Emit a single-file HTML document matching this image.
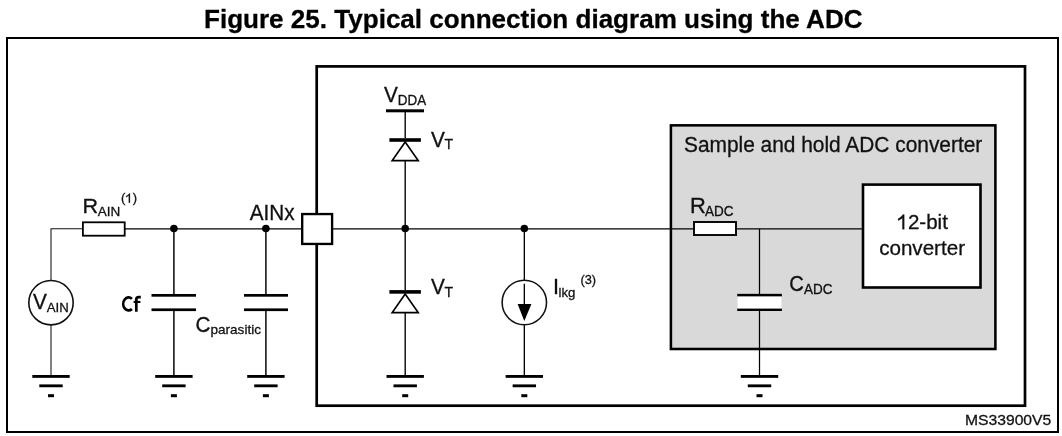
<!DOCTYPE html>
<html><head><meta charset="utf-8">
<style>
html,body{margin:0;padding:0;background:#fff;width:1062px;height:436px;overflow:hidden}
svg{display:block;will-change:transform}
text{font-family:"Liberation Sans",sans-serif;fill:#111;stroke:#111;stroke-width:0.3px}
.t{fill:#000;stroke:#000}
</style></head><body>
<svg width="1062" height="436" viewBox="0 0 1062 436">
<defs>
<g id="gnd">
<rect x="-18.7" y="375" width="37.4" height="2.85" fill="#000"/>
<rect x="-11.7" y="384.4" width="23.4" height="2.85" fill="#000"/>
<rect x="-3" y="394.2" width="6" height="3" fill="#000"/>
</g>
</defs>
<text class="t" x="204" y="27.7" style="font-weight:bold;font-size:26.05px">Figure 25. Typical connection diagram using the ADC</text>
<rect x="7" y="38" width="1051" height="394" fill="none" stroke="#000" stroke-width="2"/>
<rect x="316.7" y="66.4" width="708.3" height="339.3" fill="none" stroke="#000" stroke-width="2.7"/>
<rect x="670.9" y="125.35" width="324.5" height="223.65" fill="#d9d9d9" stroke="#000" stroke-width="2.55"/>
<rect x="863" y="184.6" width="117.5" height="102.9" fill="#fff" stroke="#000" stroke-width="2.6"/>
<g fill="none">
<path d="M51 376V325M51 280V228.8H83" stroke="#111" stroke-width="1.05"/>
<path d="M124 228.8H862" stroke="#000" stroke-width="1.2"/>
<path d="M173.9 228.8V294M173.9 311V376" stroke="#000" stroke-width="1.45"/>
<path d="M265.9 228.8V294M265.9 311V376" stroke="#000" stroke-width="1.45"/>
<path d="M405.2 112V138M405.2 161V290M405.2 313V376" stroke="#000" stroke-width="1.37"/>
<path d="M524.33 228.8V280M524.33 325V376M524.33 283.7V305" stroke="#000" stroke-width="1.33"/>
<path d="M759.5 228.8V294M759.5 311V376" stroke="#000" stroke-width="1.25"/>
</g>
<rect x="82.9" y="222.3" width="41.8" height="13.4" fill="#fff" stroke="#000" stroke-width="1.8"/>
<circle cx="51" cy="302.65" r="22.2" fill="#fff" stroke="#111" stroke-width="1.6"/>
<rect x="151.5" y="294" width="44.5" height="2.7" fill="#000"/>
<rect x="151.5" y="308.4" width="44.5" height="2.7" fill="#000"/>
<rect x="244" y="294" width="44" height="2.7" fill="#000"/>
<rect x="244" y="308.4" width="44" height="2.7" fill="#000"/>
<circle cx="173.9" cy="228.55" r="3.8" fill="#000"/>
<circle cx="265.9" cy="228.55" r="3.8" fill="#000"/>
<circle cx="405.2" cy="228.55" r="3.8" fill="#000"/>
<circle cx="524.33" cy="228.55" r="3.8" fill="#000"/>
<rect x="302.2" y="214.05" width="29.9" height="29.9" fill="#fff" stroke="#000" stroke-width="2.35"/>
<rect x="386" y="109.3" width="38" height="3" fill="#000"/>
<rect x="389.4" y="138.2" width="31.5" height="3.6" fill="#000"/>
<path d="M405.2 142L392.2 160.6H418.2Z" fill="#fff" stroke="#000" stroke-width="1.7"/>
<rect x="389.4" y="290.1" width="31.5" height="3.6" fill="#000"/>
<path d="M405.2 294L392.2 312.6H418.2Z" fill="#fff" stroke="#000" stroke-width="1.7"/>
<circle cx="524.33" cy="302.5" r="22.2" fill="none" stroke="#111" stroke-width="1.55"/>
<path d="M517.6 304H531.4L524.33 321Z" fill="#000"/>
<rect x="694" y="222" width="42" height="13" fill="#fff" stroke="#000" stroke-width="1.9"/>
<rect x="737.6" y="295" width="43.8" height="14.8" fill="#fff"/>
<rect x="737.2" y="293.85" width="44.7" height="2.5" fill="#000"/>
<rect x="737.2" y="308.6" width="44.7" height="2.4" fill="#000"/>
<use href="#gnd" x="51"/>
<use href="#gnd" x="173.9"/>
<use href="#gnd" x="265.9"/>
<use href="#gnd" x="405.2"/>
<use href="#gnd" x="524.33"/>
<use href="#gnd" x="759.5"/>
<g fill="none" stroke="#000" stroke-width="2.7">
<path d="M131.9 298.9A5.3 6.5 0 1 0 131.9 309"/>
<path d="M136.3 311.8V299.6Q136.3 297.2 138.8 297.2H140.8"/>
</g>
<rect x="133.6" y="300.9" width="6.8" height="2.1" fill="#000"/>
<text transform="translate(82.4 212.6) scale(1.08 1.0)" style="font-size:20px">R</text>
<text x="97.8" y="215.9" style="font-size:13.5px">AIN</text>
<text x="120.9" y="202.4" style="font-size:13px">(</text>
<text x="132.8" y="202.4" style="font-size:13px">)</text>
<text transform="translate(32.9 309.0) scale(1 1.05)" style="font-size:20.8px">V</text>
<text x="46.8" y="312.0" style="font-size:13.2px">AIN</text>
<text transform="translate(195.5 332.0) scale(1 1.03)" style="font-size:20.7px">C</text>
<text x="210.5" y="334.2" style="font-size:13.55px">parasitic</text>
<text transform="translate(249.8 219.5) scale(1 1.035)" style="font-size:20.7px">AINx</text>
<text transform="translate(384.0 101.8) scale(1 1.048)" style="font-size:20.8px">V</text>
<text transform="translate(397.8 104.9) scale(1 1.045)" style="font-size:13.4px">DDA</text>
<text transform="translate(431.0 146.7) scale(1 1.048)" style="font-size:20.8px">V</text>
<text x="444.6" y="148.9" style="font-size:14px">T</text>
<text transform="translate(431.0 294.2) scale(1 1.048)" style="font-size:20.8px">V</text>
<text x="444.6" y="296.7" style="font-size:14px">T</text>
<text x="552.9" y="294.1" style="font-size:21.7px">I</text>
<text x="558.6" y="296.5" style="font-size:13.2px">lkg</text>
<text x="580.4" y="284.2" style="font-size:12.8px">(3)</text>
<text transform="translate(684.0 152.0) scale(1 1.05)" style="font-size:20.9px">Sample and hold ADC converter</text>
<text transform="translate(689.9 212.8) scale(1.07 1.035)" style="font-size:20.5px">R</text>
<text transform="translate(705.1 215.9) scale(1 1.05)" style="font-size:13.5px">ADC</text>
<text transform="translate(789.2 290.7) scale(1 1.08)" style="font-size:20.2px">C</text>
<text transform="translate(803.9 293.8) scale(1 1.05)" style="font-size:13.5px">ADC</text>
<text transform="translate(964.9 424.9) scale(1 0.93)" style="font-size:15.7px">MS33900V5</text>
<path transform="translate(125.1 202.8) scale(13 -13.0)" d="M0.373 0H0.285V0.555C0.25 0.52 0.15 0.455 0.075 0.425V0.51C0.18 0.56 0.27 0.65 0.31 0.716H0.373Z" fill="#111" stroke="#111" stroke-width="0.3" vector-effect="non-scaling-stroke"/>
<path transform="translate(896.56475 229.3) scale(20.5 -20.5)" d="M0.373 0H0.285V0.555C0.25 0.52 0.15 0.455 0.075 0.425V0.51C0.18 0.56 0.27 0.65 0.31 0.716H0.373Z" fill="#111" stroke="#111" stroke-width="0.3" vector-effect="non-scaling-stroke"/>
<text x="907.96" y="229.3" style="font-size:20.5px">2-bit</text>
<text x="922.1" y="254.8" text-anchor="middle" style="font-size:20.62px">converter</text>
</svg>
</body></html>
